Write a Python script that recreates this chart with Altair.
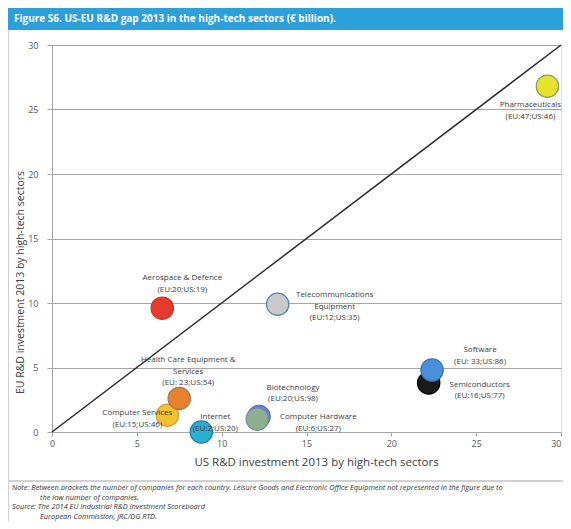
import altair as alt
import pandas as pd

# ---------------- data ----------------
sectors = ["Pharmaceuticals", "Aerospace & Defence", "Telecommunications Equipment",
           "Computer Services", "Health Care Equipment & Services", "Internet",
           "Biotechnology", "Computer Hardware", "Semiconductors", "Software"]
us_rd = [29.2, 6.5, 13.3, 6.8, 7.5, 8.8, 12.2, 12.1, 22.2, 22.4]
eu_rd = [26.8, 9.6, 9.9, 1.3, 2.6, 0.0, 1.2, 1.0, 3.8, 4.8]
label_names = ["Pharmaceuticals", "Aerospace & Defence", "Telecommunications\nEquipment",
               "Computer Services", "Health Care Equipment &\nServices", "Internet",
               "Biotechnology", "Computer Hardware", "Semiconductors", "Software"]
count_labels = ["(EU:47;US:46)", "(EU:20;US:19)", "(EU:12;US:35)", "(EU:15;US:46)",
                "(EU: 23;US:54)", "(EU:2;US:20)", "(EU:20;US:98)", "(EU:6;US:27)",
                "(EU:16;US:77)", "(EU: 33;US:86)"]
diag_x = [0, 30]
diag_y = [0, 30]
ticks = [0, 5, 10, 15, 20, 25, 30]

title_text = "Figure S6. US-EU R&D gap 2013 in the high-tech sectors (\u20ac billion)."
x_title = "US R&D investment 2013 by high-tech sectors"
y_title = "EU R&D investment 2013 by high-tech sectors"
note_lines = [
    "Note: Between brackets the number of companies for each country. Leisure Goods and Electronic Office Equipment not represented in the figure due to",
    "the low number of companies.",
    "Source: The 2014 EU Industrial R&D Investment Scoreboard",
    "European Commission, JRC/DG RTD.",
]

# ---------------- styles ----------------
fills = ["#e6e22c", "#e63b2c", "#c9c9c9", "#f2c12e", "#e8802c", "#2aaed3",
         "#6f80d8", "#8fb090", "#1a1a1a", "#4a90d9"]
strokes = ["#7f9f5f", "#c0392b", "#4f81bd", "#c9a040", "#a07a50", "#2080a8",
           "#4f6fd0", "#6a90a0", "#000000", "#3a70b0"]
label_offsets = {  # (dx, dy) in px from the bubble centre to the first label line
    "Pharmaceuticals": (-17, 19),
    "Aerospace & Defence": (20, -30),
    "Telecommunications Equipment": (57, -9),
    "Computer Services": (-30, -2),
    "Health Care Equipment & Services": (9, -38),
    "Internet": (14, -15),
    "Biotechnology": (34, -29),
    "Computer Hardware": (61, -2),
    "Semiconductors": (51, 2),
    "Software": (48, -20),
}
FONT = "Open Sans"
W, H = 509, 387
PAD = {"left": 44, "top": 37, "right": 2, "bottom": 89}

df = pd.DataFrame({
    "sector": sectors,
    "us": us_rd,
    "eu": eu_rd,
    "label": [f"{n}\n{c}" for n, c in zip(label_names, count_labels)],
})
diag = pd.DataFrame({"us": diag_x, "eu": diag_y})

xs = alt.Scale(domain=[0, 30], nice=False, zero=True)
ys = alt.Scale(domain=[0, 30], nice=False, zero=True)

x_axis = alt.Axis(values=ticks, grid=False, domainColor="#a6a6a6", tickColor="#a6a6a6",
                  tickSize=4, labelFontSize=9, labelColor="#595959", labelFont=FONT,
                  labelPadding=3,
                  labelAlign=alt.expr("datum.value == 30 ? 'right' : 'center'"),
                  titleFont=FONT, titleFontSize=11.5, titleFontWeight="normal",
                  titleColor="#404040", titlePadding=8, titleX=264)
y_axis = alt.Axis(values=ticks, grid=True, gridColor="#a6a6a6", gridWidth=1,
                  domainColor="#a6a6a6", tickColor="#a6a6a6", tickSize=5,
                  labelFontSize=9, labelColor="#595959", labelFont=FONT, labelPadding=9,
                  titleFont=FONT, titleFontSize=10.5, titleFontWeight="normal",
                  titleColor="#404040", titlePadding=2, titleY=237)

X = alt.X("us:Q", scale=xs, axis=x_axis, title=x_title)
Y = alt.Y("eu:Q", scale=ys, axis=y_axis, title=y_title)

color_scale = alt.Scale(domain=sectors, range=fills)
stroke_scale = alt.Scale(domain=sectors, range=strokes)

diag_line = alt.Chart(diag).mark_line(color="#2a2a2a", strokeWidth=1.5).encode(x=X, y=Y)

points = alt.Chart(df).mark_circle(size=500, opacity=1, strokeWidth=1.2).encode(
    x=X, y=Y,
    color=alt.Color("sector:N", scale=color_scale, legend=None),
    stroke=alt.Stroke("sector:N", scale=stroke_scale, legend=None),
)

label_layers = []
for name in sectors:
    dx, dy = label_offsets[name]
    label_layers.append(
        alt.Chart(df).transform_filter(alt.datum.sector == name).mark_text(
            dx=dx, dy=dy, align="center", baseline="middle", lineBreak="\n",
            lineHeight=11.5, font=FONT, fontSize=8, color="#404040"
        ).encode(x=X, y=Y, text="label:N")
    )

bar = alt.Chart(df).mark_rect(color="#2ba0da").encode(
    x=alt.value(-PAD["left"]), x2=alt.value(W + PAD["right"]),
    y=alt.value(-PAD["top"]), y2=alt.value(-15))
heading = alt.Chart(pd.DataFrame({"t": [title_text]})).mark_text(
    align="left", baseline="middle", font=FONT, fontSize=10, fontWeight="bold",
    color="white").encode(x=alt.value(-38), y=alt.value(-26), text="t:N")

border = alt.Chart(df).mark_rule(color="#d0d0d0", strokeWidth=1).encode(
    x=alt.value(-43.5), y=alt.value(-15), y2=alt.value(H + PAD["bottom"]))
separator = alt.Chart(df).mark_rule(color="#d0d0d0", strokeWidth=1).encode(
    x=alt.value(-PAD["left"]), x2=alt.value(W + PAD["right"]), y=alt.value(436))

notes_df = pd.DataFrame({
    "t": note_lines,
    "px": [-40, -12, -40, -12],
    "py": [443, 452.6, 462.2, 471.5],
})
notes = alt.Chart(notes_df).mark_text(
    align="left", baseline="middle", font=FONT, fontSize=7.4, fontStyle="italic",
    color="#333333").encode(
    x=alt.X("px:Q", scale=None), y=alt.Y("py:Q", scale=None), text="t:N")

chart = alt.layer(
    bar, heading, diag_line, points, *label_layers, border, separator, notes
).properties(
    width=W, height=H, padding=PAD, autosize=alt.AutoSizeParams(type="none")
).configure_view(stroke=None).configure(background="white")

chart.save("out.html", embed_options={"renderer": "svg", "actions": False})
